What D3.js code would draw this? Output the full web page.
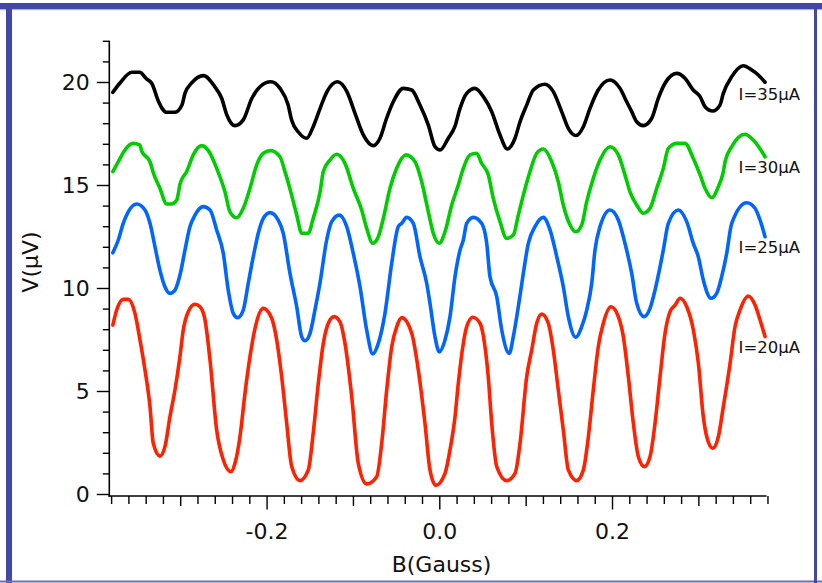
<!DOCTYPE html>
<html><head><meta charset="utf-8">
<script src="https://cdn.jsdelivr.net/npm/d3@7"></script>
<style>
html,body{margin:0;padding:0;background:#fff;}
svg{display:block;}
text{font-family:"DejaVu Sans",Verdana,sans-serif;fill:#111;}
</style></head>
<body>
<svg id="chart" width="822" height="583"></svg>
<script>
// ---- data (B in Gauss, V in microvolts) ----
const seriesLabels = ["I=35\u03bcA","I=30\u03bcA","I=25\u03bcA","I=20\u03bcA"];
const seriesColors = ["#000000","#00cc00","#0066ff","#ff2200"];
const labelBaselineV = [19.15, 15.6, 11.7, 6.85];

const i35 = [[-0.378,19.50],[-0.370,19.94],[-0.356,20.47],[-0.347,20.47],[-0.339,20.15],[-0.333,19.94],[-0.325,19.04],[-0.321,18.72],[-0.316,18.53],[-0.306,18.53],[-0.298,18.88],[-0.2945,19.45],[-0.287,19.94],[-0.273,20.31],[-0.260,19.77],[-0.252,19.21],[-0.246,18.40],[-0.2366,17.88],[-0.227,18.16],[-0.217,19.21],[-0.2076,19.77],[-0.195,20.01],[-0.1845,19.69],[-0.175,18.88],[-0.171,18.16],[-0.163,17.56],[-0.1536,17.27],[-0.146,17.83],[-0.138,18.72],[-0.130,19.53],[-0.118,20.01],[-0.107,19.53],[-0.0976,18.48],[-0.088,17.43],[-0.0764,16.91],[-0.0687,17.27],[-0.061,18.24],[-0.0533,19.04],[-0.0417,19.69],[-0.032,19.61],[-0.0224,18.88],[-0.0127,17.91],[-0.005,16.86],[0.001,16.70],[0.0104,17.27],[0.018,17.83],[0.024,18.72],[0.0317,19.45],[0.0413,19.69],[0.051,19.29],[0.0607,18.56],[0.0703,17.43],[0.0788,16.75],[0.0877,17.27],[0.0935,18.07],[0.1012,18.88],[0.1089,19.61],[0.1224,19.89],[0.132,19.53],[0.1417,18.56],[0.1494,17.75],[0.1583,17.40],[0.1668,17.83],[0.1745,18.72],[0.184,19.61],[0.1977,20.10],[0.2093,19.69],[0.217,19.04],[0.2228,18.56],[0.2286,18.07],[0.2362,17.88],[0.246,18.24],[0.2536,19.21],[0.2614,19.94],[0.2749,20.42],[0.2845,20.18],[0.294,19.61],[0.302,19.29],[0.3077,18.80],[0.3166,18.59],[0.325,18.88],[0.3289,19.45],[0.3386,20.26],[0.352,20.79],[0.3618,20.58],[0.3694,20.34],[0.3772,19.99]];

const i30 = [[-0.378,15.65],[-0.3717,16.13],[-0.364,16.70],[-0.3544,17.02],[-0.3466,16.94],[-0.3447,16.65],[-0.335,16.13],[-0.331,15.57],[-0.3235,14.84],[-0.3157,14.08],[-0.310,14.08],[-0.304,14.27],[-0.300,15.08],[-0.2925,15.65],[-0.2849,16.46],[-0.2752,16.91],[-0.2655,16.54],[-0.2578,15.81],[-0.2482,14.67],[-0.2424,13.70],[-0.2346,13.41],[-0.227,13.87],[-0.2192,14.84],[-0.2115,15.97],[-0.2038,16.54],[-0.1953,16.67],[-0.1845,16.37],[-0.1787,15.65],[-0.171,14.51],[-0.1651,13.54],[-0.1593,12.66],[-0.1517,12.66],[-0.146,13.38],[-0.138,14.67],[-0.1343,15.65],[-0.1266,16.21],[-0.1188,16.49],[-0.1092,16.05],[-0.0996,14.84],[-0.0899,13.79],[-0.0841,12.90],[-0.0771,12.17],[-0.0706,12.49],[-0.0648,13.38],[-0.0571,14.84],[-0.0494,15.81],[-0.0386,16.46],[-0.0281,16.13],[-0.0204,15.16],[-0.0127,13.70],[-0.007,12.66],[0.0,12.17],[0.0066,12.73],[0.0144,14.03],[0.022,15.00],[0.0278,15.81],[0.0356,16.46],[0.0433,16.54],[0.049,16.05],[0.0568,15.49],[0.0625,14.35],[0.0703,13.22],[0.078,12.41],[0.0857,12.57],[0.0915,13.54],[0.0973,14.51],[0.105,15.65],[0.1128,16.54],[0.1204,16.75],[0.1302,16.13],[0.1378,15.16],[0.1436,14.03],[0.1514,13.06],[0.158,12.73],[0.1649,13.06],[0.1707,14.19],[0.1783,15.32],[0.1861,16.21],[0.1977,16.86],[0.2073,16.46],[0.215,15.49],[0.2208,14.67],[0.2286,14.03],[0.2362,13.63],[0.244,13.87],[0.2518,14.84],[0.2594,15.81],[0.2652,16.78],[0.275,17.02],[0.2845,17.02],[0.294,16.30],[0.302,15.49],[0.3077,14.84],[0.3155,14.38],[0.3231,14.92],[0.3289,15.65],[0.3309,16.13],[0.3386,16.86],[0.354,17.46],[0.3636,17.18],[0.3772,16.37]];

const i25 = [[-0.378,11.71],[-0.3717,12.33],[-0.366,13.14],[-0.3602,13.70],[-0.3504,14.08],[-0.3408,13.79],[-0.335,13.14],[-0.3292,12.00],[-0.3235,10.87],[-0.3177,10.06],[-0.3119,9.74],[-0.3061,9.90],[-0.3003,10.63],[-0.2945,11.84],[-0.2887,12.98],[-0.2829,13.54],[-0.2733,13.95],[-0.2655,13.79],[-0.2578,12.82],[-0.2501,11.68],[-0.2444,9.90],[-0.2386,8.77],[-0.2335,8.56],[-0.227,8.93],[-0.2212,10.23],[-0.2154,11.52],[-0.2096,12.66],[-0.2038,13.38],[-0.1961,13.66],[-0.1865,13.30],[-0.1807,12.66],[-0.1729,10.71],[-0.1651,9.09],[-0.1594,7.64],[-0.1555,7.44],[-0.1497,7.80],[-0.144,8.93],[-0.1382,10.23],[-0.1304,12.33],[-0.1246,13.22],[-0.1158,13.54],[-0.1072,12.98],[-0.0996,11.68],[-0.0918,10.06],[-0.0841,7.96],[-0.0771,6.80],[-0.0706,7.31],[-0.0629,8.77],[-0.0551,11.20],[-0.0475,12.98],[-0.0435,13.14],[-0.0378,13.43],[-0.0301,13.14],[-0.0224,11.52],[-0.0146,10.23],[-0.0108,9.26],[-0.005,7.64],[0.0,6.90],[0.0066,7.48],[0.0124,8.61],[0.0182,10.55],[0.024,11.84],[0.0278,12.33],[0.0317,13.14],[0.0394,13.43],[0.049,13.14],[0.0549,12.17],[0.0587,10.55],[0.0665,9.58],[0.0723,7.96],[0.0811,6.83],[0.0857,7.64],[0.0915,9.09],[0.0973,10.71],[0.1031,12.17],[0.1108,12.98],[0.1204,13.43],[0.1282,12.82],[0.136,11.52],[0.1436,10.06],[0.1494,8.61],[0.158,7.61],[0.1649,8.12],[0.1707,8.93],[0.1765,10.23],[0.1803,11.84],[0.1861,12.98],[0.1977,13.79],[0.2073,13.30],[0.215,12.17],[0.2228,10.71],[0.2286,9.26],[0.2371,8.61],[0.244,9.01],[0.2498,9.90],[0.2556,11.03],[0.2594,11.84],[0.2652,13.14],[0.2768,13.79],[0.2865,13.22],[0.2941,12.17],[0.2999,11.52],[0.3057,10.39],[0.3147,9.50],[0.3212,9.74],[0.327,10.55],[0.3328,11.68],[0.3386,13.14],[0.356,14.14],[0.3656,13.87],[0.3714,13.30],[0.3772,12.49]];

const i20 = [[-0.378,8.20],[-0.3736,8.93],[-0.366,9.45],[-0.360,9.45],[-0.3524,8.77],[-0.3466,7.48],[-0.3408,6.02],[-0.335,4.24],[-0.3312,2.46],[-0.3235,1.84],[-0.3177,2.30],[-0.3119,3.75],[-0.3061,5.05],[-0.3003,6.67],[-0.2965,7.96],[-0.2907,8.85],[-0.2829,9.21],[-0.2771,9.09],[-0.2713,8.45],[-0.2655,6.50],[-0.2578,3.11],[-0.2501,1.65],[-0.2412,1.08],[-0.2366,1.49],[-0.2308,2.78],[-0.225,4.89],[-0.2192,6.67],[-0.2134,8.04],[-0.2038,9.01],[-0.1941,8.53],[-0.1883,7.48],[-0.1825,5.69],[-0.1767,3.43],[-0.1709,1.33],[-0.1613,0.65],[-0.1517,1.17],[-0.146,2.95],[-0.1401,5.37],[-0.1343,7.31],[-0.1285,8.29],[-0.1219,8.61],[-0.115,8.36],[-0.1092,7.31],[-0.1014,4.72],[-0.0938,1.49],[-0.0841,0.49],[-0.0725,0.84],[-0.0667,2.46],[-0.0609,5.05],[-0.0551,7.15],[-0.0493,8.12],[-0.0435,8.56],[-0.032,7.80],[-0.0243,6.02],[-0.0166,3.43],[-0.0108,1.17],[-0.004,0.42],[0.0066,1.00],[0.0124,2.14],[0.0182,3.75],[0.022,5.37],[0.0278,7.31],[0.0317,8.12],[0.0387,8.58],[0.0471,8.29],[0.0529,7.15],[0.0567,5.69],[0.0607,3.43],[0.0665,1.33],[0.078,0.65],[0.0877,1.00],[0.0935,2.46],[0.1012,5.69],[0.107,6.99],[0.1128,8.29],[0.1186,8.74],[0.1262,8.29],[0.132,6.99],[0.1378,5.05],[0.1436,3.11],[0.1494,1.17],[0.1591,0.65],[0.1668,1.17],[0.1726,2.78],[0.1783,5.05],[0.1841,7.15],[0.1899,8.29],[0.1988,9.09],[0.2073,8.61],[0.2131,7.64],[0.2189,5.69],[0.2247,3.43],[0.2305,1.81],[0.2374,1.33],[0.244,1.81],[0.2498,3.43],[0.2556,5.69],[0.2614,7.80],[0.2672,8.85],[0.273,9.17],[0.2788,9.50],[0.2865,9.09],[0.2942,7.96],[0.3,6.34],[0.3057,3.75],[0.3097,2.78],[0.3166,2.22],[0.3231,2.78],[0.3289,4.24],[0.3367,6.34],[0.3424,8.12],[0.3482,8.93],[0.3578,9.61],[0.3656,9.17],[0.3714,8.45],[0.3772,7.64]];

const seriesData = [i35, i30, i25, i20];

const xMajorTicks = [-0.2, 0.0, 0.2];
const xTickLabels = ["-0.2", "0.0", "0.2"];
const yMajorTicks = [0, 5, 10, 15, 20];
const yTickLabels = ["0", "5", "10", "15", "20"];
const xTitle = "B(Gauss)";
const yTitle = "V(\u03bcV)";

// ---- layout ----
const svg = d3.select("#chart");
const frameColor = "#4347a7";

// frame
svg.append("rect").attr("x",0).attr("y",3).attr("width",822).attr("height",6).attr("fill",frameColor);
svg.append("rect").attr("x",0).attr("y",9).attr("width",822).attr("height",1.2).attr("fill","#aab0e0");
svg.append("rect").attr("x",6).attr("y",3).attr("width",6).attr("height",580).attr("fill",frameColor);
svg.append("rect").attr("x",0).attr("y",580.5).attr("width",822).attr("height",2).attr("fill","#6a6fc0");
svg.append("rect").attr("x",814).attr("y",3).attr("width",3).attr("height",580).attr("fill",frameColor);

const x = d3.scaleLinear().domain([-0.382, 0.379]).range([109.4, 766.6]);
const y = d3.scaleLinear().domain([0, 22]).range([494, 40.8]);

const xAxisY = 496;
const yAxisX = 109.3;

// y axis: minor ticks every 1, major every 5
const yMinor = d3.range(0, 23, 1).filter(v => v % 5 !== 0);
const gy = svg.append("g").attr("transform", `translate(${yAxisX},0)`);
gy.call(d3.axisLeft(y).tickValues(yMinor).tickSize(6.5).tickFormat("")).call(g=>g.select(".domain").remove());
gy.append("g").call(d3.axisLeft(y).tickValues(yMajorTicks).tickSize(12.5).tickPadding(7)
    .tickFormat((d,i)=>yTickLabels[i]))
  .call(g=>g.select(".domain").remove())
  .call(g=>g.selectAll("text").attr("font-size",22).attr("font-family","DejaVu Sans, sans-serif").attr("fill","#111"));
gy.append("line").attr("x1",0).attr("x2",0).attr("y1",y(22)).attr("y2",xAxisY+0.8).attr("stroke","#000").attr("stroke-width",1.6);
gy.selectAll(".tick line").attr("stroke","#000").attr("stroke-width",1.4);

// x axis: minor 0.02, medium at odd 0.1, major at even 0.2
const xAll = d3.range(-19, 20).map(k => k*0.02);
const xMinor = xAll.filter(v => Math.abs(Math.round(v*50)) % 5 !== 0);
const xMedium = [-0.3, -0.1, 0.1, 0.3];
const gx = svg.append("g").attr("transform", `translate(0,${xAxisY})`);
gx.append("g").call(d3.axisBottom(x).tickValues(xMinor).tickSize(8).tickFormat("")).call(g=>g.select(".domain").remove());
gx.append("g").call(d3.axisBottom(x).tickValues(xMedium).tickSize(10).tickFormat("")).call(g=>g.select(".domain").remove());
gx.append("g").call(d3.axisBottom(x).tickValues(xMajorTicks).tickSize(13.5).tickPadding(13.5)
    .tickFormat((d,i)=>xTickLabels[i]))
  .call(g=>g.select(".domain").remove())
  .call(g=>g.selectAll("text").attr("font-size",22).attr("font-family","DejaVu Sans, sans-serif").attr("fill","#111"));
gx.append("line").attr("x1",yAxisX-0.8).attr("x2",x(0.379)).attr("y1",0).attr("y2",0).attr("stroke","#000").attr("stroke-width",1.6);
gx.selectAll(".tick line").attr("stroke","#000").attr("stroke-width",1.4);

// axis titles
svg.append("text").attr("x",441.5).attr("y",571.5).attr("text-anchor","middle").attr("font-size",22).text(xTitle);
svg.append("text").attr("transform","translate(38,262) rotate(-90)").attr("text-anchor","middle").attr("font-size",22).text(yTitle);

// curves
const line = d3.line().x(d=>x(d[0])).y(d=>y(d[1])).curve(d3.curveMonotoneX);
seriesData.forEach((s,i)=>{
  svg.append("path").datum(s).attr("d",line).attr("fill","none")
    .attr("stroke",seriesColors[i]).attr("stroke-width",3.6).attr("stroke-linejoin","round").attr("stroke-linecap","round");
});

// series labels
seriesLabels.forEach((t,i)=>{
  svg.append("text").attr("x",x(0.3465)).attr("y",y(labelBaselineV[i])).attr("font-size",16.5).text(t);
});
</script>
</body></html>
